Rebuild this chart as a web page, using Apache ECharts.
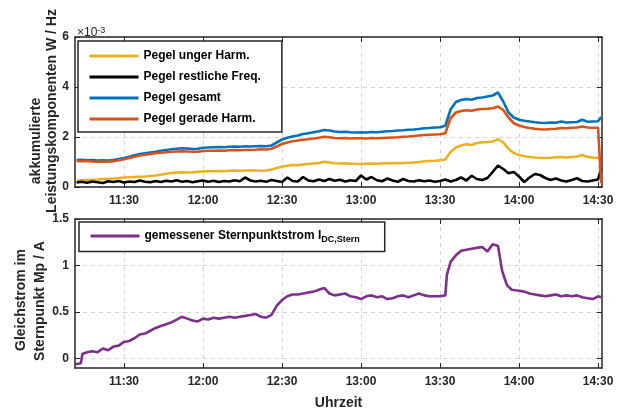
<!DOCTYPE html>
<html>
<head>
<meta charset="utf-8">
<script src="https://cdn.jsdelivr.net/npm/echarts@6/dist/echarts.min.js"></script>
<style>
  html, body { margin: 0; padding: 0; background: #fff; }
  #chart { width: 622px; height: 412px; }
</style>
</head>
<body>
<div id="chart"></div>
<script>
// Clock time in minutes after midnight (e.g. 690 = 11:30)
const timeTop = [
  672, 674, 676, 678, 680, 682, 684, 686, 688, 690,
  692, 694, 696, 698, 700, 702, 704, 706, 708, 710,
  712, 714, 716, 718, 720, 722, 724, 726, 728, 730,
  732, 734, 736, 738, 740, 742, 744, 746, 748, 750,
  752, 754, 756, 758, 760, 762, 764, 766, 768, 770,
  772, 774, 776, 778, 780, 782, 784, 786, 788, 790,
  792, 794, 796, 798, 800, 802, 804, 806, 808, 810,
  812, 814, 816, 818, 820, 822, 824, 826, 828, 830,
  832, 834, 836, 838, 840, 842, 844, 846, 848, 850,
  852, 854, 856, 858, 860, 862, 864, 866, 868, 870,
  871.2
];

// Accumulated power components, in units of 1e-3 W/Hz
const pegelUngerHarm = [
  0.26, 0.27, 0.28, 0.29, 0.30, 0.32, 0.33, 0.34, 0.36, 0.38,
  0.39, 0.40, 0.41, 0.42, 0.44, 0.46, 0.49, 0.53, 0.56, 0.58,
  0.59, 0.58, 0.59, 0.61, 0.62, 0.63, 0.63, 0.64, 0.63, 0.65,
  0.66, 0.65, 0.66, 0.67, 0.66, 0.65, 0.66, 0.70, 0.76, 0.82,
  0.85, 0.88, 0.87, 0.90, 0.92, 0.94, 0.96, 1.01, 0.98, 0.95,
  0.94, 0.95, 0.93, 0.93, 0.92, 0.93, 0.94, 0.93, 0.94, 0.95,
  0.96, 0.95, 0.96, 0.97, 0.98, 1.00, 1.03, 1.04, 1.05, 1.07,
  1.10, 1.40, 1.58, 1.66, 1.71, 1.68, 1.76, 1.79, 1.80, 1.82,
  1.91, 1.78, 1.52, 1.36, 1.28, 1.23, 1.20, 1.18, 1.17, 1.16,
  1.17, 1.19, 1.20, 1.18, 1.20, 1.22, 1.28, 1.20, 1.18, 1.17,
  1.17
];
const pegelRestFreq = [
  0.18, 0.21, 0.17, 0.22, 0.19, 0.16, 0.23, 0.20, 0.24, 0.18,
  0.22, 0.20, 0.26, 0.21, 0.19, 0.24, 0.20, 0.25, 0.22, 0.27,
  0.21, 0.24, 0.19, 0.23, 0.26, 0.21, 0.25, 0.20, 0.24, 0.22,
  0.27, 0.23, 0.38, 0.26, 0.22, 0.25, 0.21, 0.28, 0.24, 0.20,
  0.38, 0.24, 0.22, 0.40, 0.26, 0.23, 0.30, 0.24, 0.32, 0.25,
  0.29, 0.22, 0.27, 0.24, 0.46, 0.30, 0.40, 0.27, 0.23, 0.34,
  0.26, 0.21, 0.32, 0.24, 0.22, 0.27, 0.23, 0.26, 0.21, 0.24,
  0.30, 0.22, 0.28, 0.38, 0.26, 0.45, 0.32, 0.28, 0.36, 0.60,
  0.86, 0.72, 0.55, 0.60, 0.42, 0.20, 0.38, 0.52, 0.48, 0.36,
  0.28, 0.34, 0.26, 0.22, 0.28, 0.35, 0.24, 0.22, 0.26, 0.30,
  0.75
];
const pegelGesamt = [
  1.08, 1.09, 1.07, 1.08, 1.06, 1.07, 1.06, 1.08, 1.12, 1.16,
  1.21, 1.27, 1.32, 1.35, 1.38, 1.41, 1.45, 1.48, 1.51, 1.53,
  1.55, 1.54, 1.52, 1.53, 1.57, 1.58, 1.59, 1.60, 1.59, 1.61,
  1.62, 1.61, 1.63, 1.62, 1.63, 1.64, 1.63, 1.66, 1.78, 1.90,
  1.97, 2.02, 2.06, 2.12, 2.15, 2.19, 2.23, 2.28, 2.26, 2.22,
  2.20, 2.21, 2.19, 2.18, 2.19, 2.18, 2.20, 2.19, 2.21, 2.23,
  2.24, 2.26, 2.27, 2.29, 2.30, 2.32, 2.35, 2.36, 2.38, 2.39,
  2.45, 3.10, 3.40, 3.48, 3.52, 3.49, 3.56, 3.58, 3.62, 3.66,
  3.78, 3.42, 2.98, 2.78, 2.69, 2.65, 2.62, 2.59, 2.57, 2.56,
  2.58, 2.57, 2.62, 2.58, 2.59, 2.60, 2.69, 2.61, 2.62, 2.63,
  2.80
];
const pegelGeradeHarm = [
  1.04, 1.03, 1.04, 1.02, 1.01, 1.02, 1.01, 1.03, 1.07, 1.11,
  1.16, 1.21, 1.26, 1.29, 1.32, 1.35, 1.37, 1.39, 1.41, 1.42,
  1.43, 1.42, 1.41, 1.41, 1.44, 1.45, 1.45, 1.46, 1.45, 1.47,
  1.48, 1.47, 1.48, 1.48, 1.49, 1.51, 1.50, 1.53, 1.62, 1.72,
  1.78, 1.83, 1.86, 1.89, 1.91, 1.94, 1.97, 2.01, 1.99, 1.96,
  1.95, 1.96, 1.94, 1.95, 1.95, 1.94, 1.96, 1.95, 1.96, 1.97,
  1.98, 1.99, 2.01, 2.02, 2.04, 2.06, 2.08, 2.09, 2.10, 2.11,
  2.15, 2.75, 2.98, 3.04, 3.07, 3.05, 3.10, 3.12, 3.13, 3.15,
  3.22, 3.08, 2.78, 2.55, 2.46, 2.40, 2.36, 2.33, 2.31, 2.30,
  2.32, 2.33, 2.36, 2.35, 2.37, 2.38, 2.42, 2.38, 2.37, 2.37,
  0.15
];

// Measured neutral-point DC current in A
const timeDc = [
  671.6, 673.6, 674.2, 676, 678, 680, 682, 684, 686, 688,
  690, 692, 694, 696, 698, 700, 702, 704, 706, 708,
  710, 712, 714, 716, 718, 720, 722, 724, 726, 728,
  730, 732, 734, 736, 738, 740, 742, 744, 746, 748,
  750, 752, 754, 756, 758, 760, 762, 764, 766, 768,
  770, 772, 774, 776, 778, 780, 782, 784, 786, 788,
  790, 792, 794, 796, 798, 800, 802, 804, 806, 808,
  810, 812, 812.6, 814, 816, 818, 820, 822, 824, 826,
  828, 830, 832, 833.6, 835.4, 837.2, 840, 842, 844, 846,
  848, 850, 852, 854, 856, 858, 860, 862, 864, 866,
  868, 870, 871.2
];
const sternpunktstrom = [
  -0.06, -0.05, 0.05, 0.07, 0.08, 0.07, 0.11, 0.09, 0.13, 0.14,
  0.18, 0.19, 0.22, 0.26, 0.27, 0.30, 0.33, 0.35, 0.37, 0.39,
  0.42, 0.45, 0.43, 0.41, 0.40, 0.43, 0.42, 0.44, 0.43, 0.44,
  0.45, 0.44, 0.45, 0.46, 0.47, 0.48, 0.45, 0.44, 0.47, 0.57,
  0.63, 0.67, 0.69, 0.69, 0.70, 0.71, 0.72, 0.74, 0.76, 0.70,
  0.68, 0.69, 0.70, 0.67, 0.66, 0.64, 0.67, 0.68, 0.66, 0.67,
  0.64, 0.65, 0.67, 0.68, 0.66, 0.68, 0.70, 0.68, 0.67, 0.67,
  0.67, 0.68, 0.90, 1.04, 1.11, 1.16, 1.17, 1.18, 1.19, 1.20,
  1.15, 1.23, 1.21, 0.94, 0.79, 0.74, 0.73, 0.72, 0.70, 0.69,
  0.68, 0.67, 0.68, 0.69, 0.67, 0.68, 0.67, 0.68, 0.66, 0.65,
  0.64, 0.67, 0.66
];

// Axis ticks
const timeTicks = [690, 720, 750, 780, 810, 840, 870];
const topTicks = [0, 2, 4, 6];
const bottomTicks = [0, 0.5, 1, 1.5];

const xMin = 671.4, xMax = 871.5;
const axisColor = '#262626';
const fontFamily = '"Liberation Sans", Arial, Helvetica, sans-serif';
const gridDash = { type: [4, 4], color: '#d4d4d4', width: 1 };

const fmtTime = v => {
  const h = Math.floor(v / 60), m = Math.round(v - h * 60);
  return h + ':' + String(m).padStart(2, '0');
};
const pairs = (t, v) => t.map((x, i) => [x, v[i]]);

const tickLabelStyle = {
  color: axisColor, fontSize: 12, fontWeight: 'bold', fontFamily: fontFamily
};

function xAxesFor(gridIndex, withName) {
  return [
    {
      type: 'value', gridIndex: gridIndex, min: xMin, max: xMax, position: 'bottom',
      axisLine: { show: true, onZero: false, lineStyle: { color: axisColor, width: 1.5 } },
      axisTick: { show: true, inside: true, length: 5, customValues: timeTicks, lineStyle: { color: axisColor, width: 1 } },
      axisLabel: Object.assign({ show: true, customValues: timeTicks, formatter: fmtTime, margin: 8 }, tickLabelStyle),
      splitLine: { show: true, lineStyle: gridDash },
      name: withName ? 'Uhrzeit' : '',
      nameLocation: 'middle', nameGap: 28,
      nameTextStyle: { color: axisColor, fontSize: 14, fontWeight: 'bold', fontFamily: fontFamily }
    },
    {
      type: 'value', gridIndex: gridIndex, min: xMin, max: xMax, position: 'top',
      axisLine: { show: true, onZero: false, lineStyle: { color: axisColor, width: 1.5 } },
      axisTick: { show: true, inside: true, length: 5, customValues: timeTicks, lineStyle: { color: axisColor, width: 1 } },
      axisLabel: { show: false },
      splitLine: { show: false }
    }
  ];
}

function yAxesFor(gridIndex, min, max, ticks) {
  const common = {
    type: 'value', gridIndex: gridIndex, min: min, max: max,
    axisLine: { show: true, onZero: false, lineStyle: { color: axisColor, width: 1.5 } },
    axisTick: { show: true, inside: true, length: 5, customValues: ticks, lineStyle: { color: axisColor, width: 1 } }
  };
  return [
    Object.assign({}, common, {
      position: 'left',
      axisLabel: Object.assign({ show: true, customValues: ticks, margin: 6, formatter: v => String(v) }, tickLabelStyle),
      splitLine: { show: true, lineStyle: gridDash }
    }),
    Object.assign({}, common, {
      position: 'right',
      axisLabel: { show: false },
      splitLine: { show: false }
    })
  ];
}

const legendText = { color: '#000', fontSize: 12, fontWeight: 'bold', fontFamily: fontFamily };

const lineSeries = (name, xAxisIndex, yAxisIndex, data, color) => ({
  name: name, type: 'line', xAxisIndex: xAxisIndex, yAxisIndex: yAxisIndex,
  data: data, showSymbol: false, symbol: 'none',
  lineStyle: { color: color, width: 2.6 }, itemStyle: { color: color },
  z: 3
});

const chart = echarts.init(document.getElementById('chart'), null, { renderer: 'canvas' });

chart.setOption({
  animation: false,
  backgroundColor: '#fff',
  grid: [
    { left: 75, top: 37, width: 527, height: 150 },
    { left: 75, top: 219, width: 527, height: 149 }
  ],
  xAxis: [].concat(xAxesFor(0, false), xAxesFor(1, true)),
  yAxis: [].concat(yAxesFor(0, 0, 6, topTicks), yAxesFor(1, -0.1, 1.5, bottomTicks)),
  legend: [
    {
      data: ['Pegel unger Harm.', 'Pegel restliche Freq.', 'Pegel gesamt', 'Pegel gerade Harm.'],
      orient: 'vertical', left: 78, top: 41,
      padding: [9, 21, 7, 10], itemGap: 9,
      itemWidth: 49, itemHeight: 14,
      backgroundColor: '#fff', borderColor: axisColor, borderWidth: 1.5, borderRadius: 0,
      textStyle: legendText, selectedMode: false,
      itemStyle: { opacity: 0 },
      lineStyle: { width: 3 }
    },
    {
      data: ['gemessener Sternpunktstrom IDC,Stern'],
      orient: 'vertical', left: 79, top: 222,
      padding: [8, 25, 7, 10],
      itemWidth: 49, itemHeight: 14,
      backgroundColor: '#fff', borderColor: axisColor, borderWidth: 1.5, borderRadius: 0,
      selectedMode: false,
      itemStyle: { opacity: 0 },
      lineStyle: { width: 3 },
      formatter: () => '{m|gemessener Sternpunktstrom I}{s|DC,Stern}',
      textStyle: Object.assign({}, legendText, {
        rich: {
          m: Object.assign({}, legendText),
          s: Object.assign({}, legendText, { fontSize: 9, padding: [8, 0, 0, 0] })
        }
      })
    }
  ],
  series: [
    lineSeries('Pegel unger Harm.', 0, 0, pairs(timeTop, pegelUngerHarm), '#EDB120'),
    lineSeries('Pegel restliche Freq.', 0, 0, pairs(timeTop, pegelRestFreq), '#000000'),
    lineSeries('Pegel gesamt', 0, 0, pairs(timeTop, pegelGesamt), '#0072BD'),
    lineSeries('Pegel gerade Harm.', 0, 0, pairs(timeTop, pegelGeradeHarm), '#D95319'),
    lineSeries('gemessener Sternpunktstrom IDC,Stern', 2, 2, pairs(timeDc, sternpunktstrom), '#7E2F8E')
  ],
  graphic: [
    {
      type: 'text', x: 77, y: 23, z: 10,
      style: {
        text: '{a|×10}{b|-3}',
        rich: {
          a: { fontSize: 12, fontFamily: fontFamily, fill: axisColor, padding: [4, 0, 0, 0] },
          b: { fontSize: 9, fontFamily: fontFamily, fill: axisColor }
        }
      }
    },
    {
      type: 'text', x: 36, y: 141, rotation: Math.PI / 2, z: 10,
      style: { text: 'akkumulierte', fontSize: 14, fontWeight: 'bold', fontFamily: fontFamily, fill: axisColor, align: 'center', verticalAlign: 'middle' }
    },
    {
      type: 'text', x: 52, y: 111, rotation: Math.PI / 2, z: 10,
      style: { text: 'Leistungskomponenten W / Hz', fontSize: 14, fontWeight: 'bold', fontFamily: fontFamily, fill: axisColor, align: 'center', verticalAlign: 'middle' }
    },
    {
      type: 'text', x: 21, y: 300, rotation: Math.PI / 2, z: 10,
      style: { text: 'Gleichstrom im', fontSize: 14, fontWeight: 'bold', fontFamily: fontFamily, fill: axisColor, align: 'center', verticalAlign: 'middle' }
    },
    {
      type: 'text', x: 40, y: 301, rotation: Math.PI / 2, z: 10,
      style: { text: 'Sternpunkt Mp / A', fontSize: 14, fontWeight: 'bold', fontFamily: fontFamily, fill: axisColor, align: 'center', verticalAlign: 'middle' }
    }
  ]
});
</script>
</body>
</html>
